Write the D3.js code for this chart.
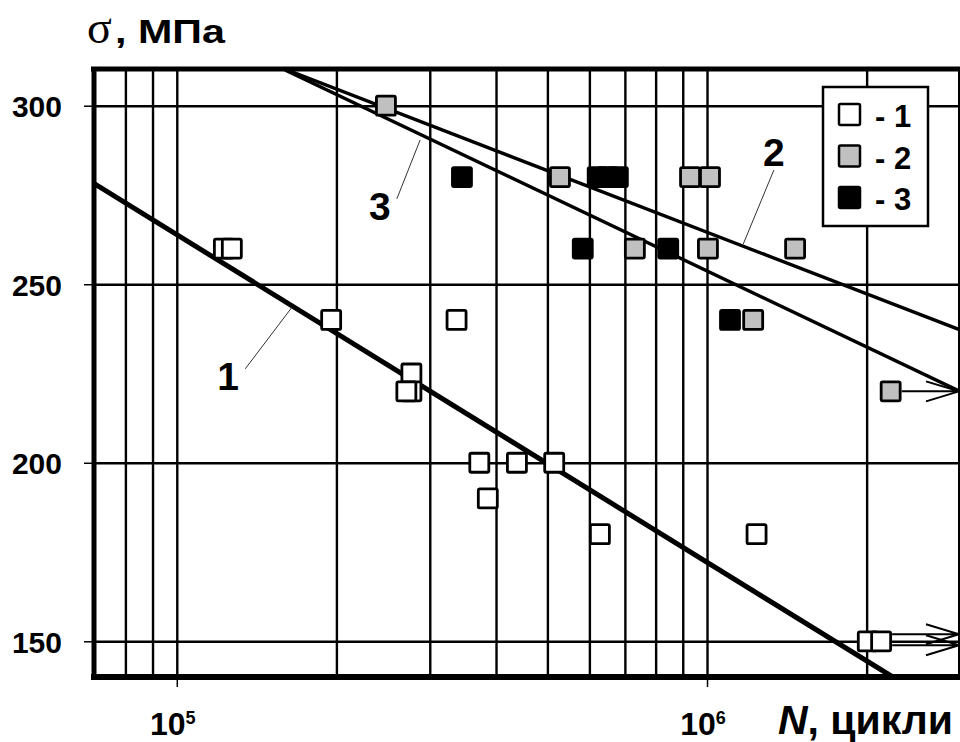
<!DOCTYPE html>
<html><head><meta charset="utf-8">
<script src="https://cdn.jsdelivr.net/npm/d3@7"></script>
<style>body{margin:0;background:#fff}</style>
</head><body><svg id="c" width="960" height="742"></svg>
<script>
// ---- data ----
const yTicks = [150, 200, 250, 300];
const xTicks = [1e5, 1e6];
const xTickBase = ["10", "10"];
const xTickExp = ["5", "6"];
const gridN = [8e4, 9e4, 1e5, 2e5, 3e5, 4e5, 5e5, 6e5, 7e5, 8e5, 9e5, 1e6, 2e6];

// series 1 (white)
const s1N = [1.227e5, 1.27e5, 1.955e5, 3.37e5, 2.77e5, 2.77e5, 2.71e5, 3.72e5, 4.38e5, 5.15e5, 3.86e5, 6.28e5, 1.24e6, 2.01e6, 2.13e6];
const s1S = [260, 260, 240, 240, 225, 220, 220, 200, 200, 200, 190, 180, 180, 150, 150];
const s1Run = [0,0,0,0,0,0,0,0,0,0,0,0,0,1,1];
// series 3 (black)
const s3N = [3.45e5, 6.22e5, 6.5e5, 6.79e5, 5.83e5, 8.45e5, 1.105e6];
const s3S = [280, 280, 280, 280, 260, 260, 240];
const s3Run = [0,0,0,0,0,0,0];
// series 2 (gray)
const s2N = [2.48e5, 5.28e5, 9.29e5, 1.013e6, 7.31e5, 1.004e6, 1.466e6, 1.222e6, 2.22e6];
const s2S = [300, 280, 280, 280, 260, 260, 260, 240, 220];
const s2Run = [0,0,0,0,0,0,0,0,1];

// regression lines (two end points each)
const line1N = [6.95e4, 2.24e6], line1S = [278.4, 140];
const line2N = [1.615e5, 3e6],  line2S = [310, 237.2];
const line3N = [1.60e5, 3e6],   line3S = [310, 220];

// line labels: text position and leader (data coords)
const labNames = ["1", "2", "3"];
const labN = [1.25e5, 1.337e6, 2.416e5];
const labS = [220.4, 283.1, 268];
const leadFromN = [1.346e5, 1.337e6, 2.6e5];
const leadFromS = [226.3, 282, 273.9];
const leadToN = [1.65e5, 1.17e6, 2.877e5];
const leadToS = [243.6, 261.2, 290.4];

const legendNames = ["- 1", "- 2", "- 3"];
const legendFill = ["#ffffff", "#c0c0c0", "#000000"];

// ---- drawing ----
const svg = d3.select("#c");
const L = 93, R = 960, T = 70, B = 677;
const x = d3.scaleLog().domain([6.95e4, 3e6]).range([L, R]);
const y = d3.scaleLinear().domain([140, 310]).range([B, T]);
const SANS = "'Liberation Sans', Arial, sans-serif";

svg.append("rect").attr("width", 960).attr("height", 742).attr("fill", "#fff");

svg.append("defs").append("clipPath").attr("id", "clip")
  .append("rect").attr("x", L).attr("y", T).attr("width", R - L).attr("height", B - T);

// vertical grid
const gx = svg.append("g").attr("transform", `translate(0,${B})`)
  .call(d3.axisBottom(x).tickValues(gridN).tickSize(-(B - T)).tickFormat(""));
gx.select(".domain").remove();
gx.selectAll("line").attr("stroke", "#000").attr("stroke-width", 2.4);

// horizontal grid
const gy = svg.append("g").attr("transform", `translate(${L},0)`)
  .call(d3.axisLeft(y).tickValues(yTicks).tickSize(-(R - L)).tickFormat(""));
gy.select(".domain").remove();
gy.selectAll("line").attr("stroke", "#000").attr("stroke-width", 2.4);

// outer tick marks + labels
const ay = svg.append("g").attr("transform", `translate(${L - 1},0)`)
  .call(d3.axisLeft(y).tickValues(yTicks).tickSize(8).tickPadding(22));
ay.select(".domain").remove();
ay.selectAll("line").attr("stroke", "#000").attr("stroke-width", 1.5);
ay.selectAll("text").attr("font-family", SANS).attr("font-weight", "bold")
  .attr("font-size", 30).attr("fill", "#000").attr("dy", "0.36em");

const ax = svg.append("g").attr("transform", `translate(0,${B + 1})`)
  .call(d3.axisBottom(x).tickValues(xTicks).tickSize(9).tickFormat(""));
ax.select(".domain").remove();
ax.selectAll("line").attr("stroke", "#000").attr("stroke-width", 1.5);

xTicks.forEach((v, i) => {
  const t = svg.append("text").attr("x", x(v) - 4).attr("y", 735)
    .attr("text-anchor", "middle").attr("font-family", SANS)
    .attr("font-weight", "bold").attr("font-size", 32).attr("fill", "#000");
  t.append("tspan").text(xTickBase[i]);
  t.append("tspan").attr("font-size", 18).attr("dy", -11).text(xTickExp[i]);
});

// regression lines
const lineGen = d3.line().x(d => x(d[0])).y(d => y(d[1]));
const plot = svg.append("g").attr("clip-path", "url(#clip)");
[[line1N, line1S, 5], [line2N, line2S, 3.4], [line3N, line3S, 3.4]].forEach(([ns, ss, w]) => {
  plot.append("path").datum(ns.map((n, i) => [n, ss[i]])).attr("d", lineGen)
    .attr("fill", "none").attr("stroke", "#000").attr("stroke-width", w);
});

// leader lines and labels
labNames.forEach((name, i) => {
  svg.append("line")
    .attr("x1", x(leadFromN[i])).attr("y1", y(leadFromS[i]))
    .attr("x2", x(leadToN[i])).attr("y2", y(leadToS[i]))
    .attr("stroke", "#333").attr("stroke-width", 1);
  svg.append("text").attr("x", x(labN[i])).attr("y", y(labS[i]))
    .attr("text-anchor", "middle").attr("font-family", SANS)
    .attr("font-weight", "bold").attr("font-size", 39).attr("fill", "#000").text(name);
});

// markers + runout arrows
const S = 19;
function drawSeries(ns, ss, run, fill) {
  const pts = ns.map((n, i) => ({ n, s: ss[i], r: run[i] }));
  const runs = pts.filter(p => p.r);
  const groups = d3.group(runs, p => p.s);
  groups.forEach((arr, s) => {
    const xs = d3.max(arr, p => x(p.n)) + S / 2 + 1.5;
    arr.forEach((p, k) => {
      const yy = y(s) + (k - (arr.length - 1) / 2) * 11 - (arr.length > 1 ? 1.5 : 0);
      const tip = R - 1;
      svg.append("path")
        .attr("d", `M${xs},${yy}L${tip},${yy}M${tip - 33},${yy - 10}L${tip},${yy}L${tip - 33},${yy + 10}`)
        .attr("fill", "none").attr("stroke", "#000").attr("stroke-width", 2);
    });
  });
  svg.append("g").selectAll("rect").data(pts).join("rect")
    .attr("x", d => x(d.n) - S / 2).attr("y", d => y(d.s) - S / 2)
    .attr("width", S).attr("height", S).attr("rx", 1.5)
    .attr("fill", fill).attr("stroke", "#000").attr("stroke-width", 2.8);
}
drawSeries(s1N, s1S, s1Run, "#ffffff");
drawSeries(s3N, s3S, s3Run, "#000000");
drawSeries(s2N, s2S, s2Run, "#c0c0c0");

// frame
svg.append("line").attr("x1", L - 2).attr("x2", R).attr("y1", T - 1).attr("y2", T - 1)
  .attr("stroke", "#000").attr("stroke-width", 5);
svg.append("line").attr("x1", L + 1).attr("x2", L + 1).attr("y1", T - 3).attr("y2", B + 3)
  .attr("stroke", "#000").attr("stroke-width", 5);
svg.append("line").attr("x1", L - 2).attr("x2", R).attr("y1", B).attr("y2", B)
  .attr("stroke", "#000").attr("stroke-width", 6);
svg.append("line").attr("x1", R - 1).attr("x2", R - 1).attr("y1", T).attr("y2", B)
  .attr("stroke", "#000").attr("stroke-width", 2);

// legend
const lg = svg.append("g");
lg.append("rect").attr("x", 823).attr("y", 87).attr("width", 105).attr("height", 139)
  .attr("fill", "#fff").attr("stroke", "#000").attr("stroke-width", 2.5);
legendNames.forEach((name, i) => {
  const cy = 115 + i * 41.5;
  lg.append("rect").attr("x", 850 - 11).attr("y", cy - 11).attr("width", 21).attr("height", 21)
    .attr("rx", 1.5).attr("fill", legendFill[i]).attr("stroke", "#000").attr("stroke-width", 2.5);
  lg.append("text").attr("x", 875).attr("y", cy + 12).attr("font-family", SANS)
    .attr("font-weight", "bold").attr("font-size", 31).attr("fill", "#000")
    .attr("xml:space", "preserve").text(name);
});

// axis titles
svg.append("text").attr("x", 87).attr("y", 43)
  .attr("font-family", "'Liberation Serif', 'Times New Roman', serif")
  .attr("font-size", 46).attr("fill", "#000").text("σ");
svg.append("text").attr("transform", "translate(115,43) scale(1.25,1)")
  .attr("font-family", SANS).attr("font-weight", "bold").attr("font-size", 33)
  .attr("fill", "#000").text(", МПа");

const xt = svg.append("text").attr("x", 953).attr("y", 734).attr("text-anchor", "end")
  .attr("font-family", SANS).attr("font-weight", "bold").attr("font-size", 41).attr("fill", "#000");
xt.append("tspan").attr("font-style", "italic").text("N");
xt.append("tspan").text(", цикли");
</script>
</body></html>
